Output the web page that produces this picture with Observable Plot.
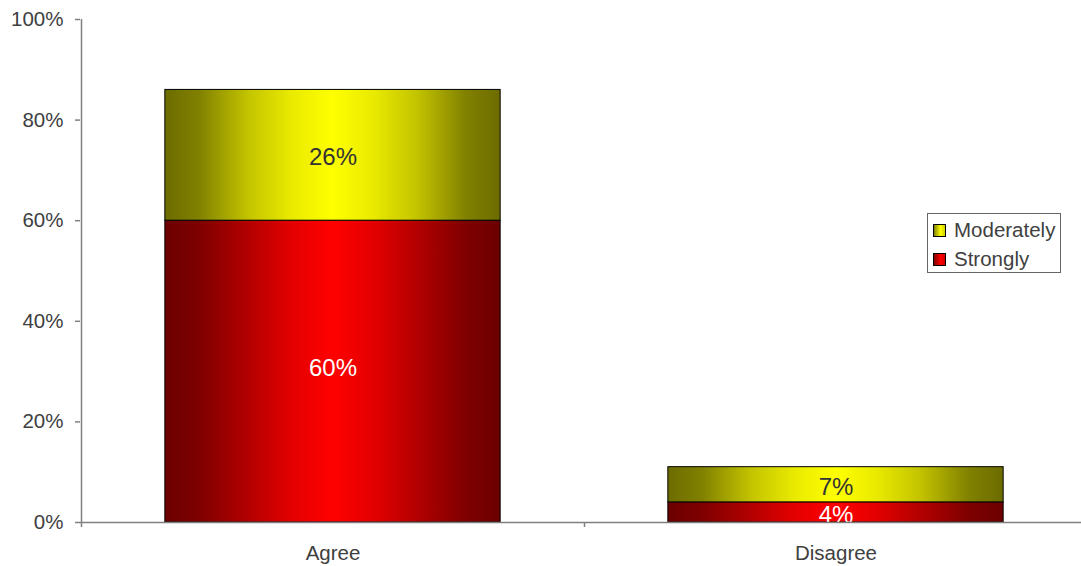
<!DOCTYPE html>
<html>
<head>
<meta charset="utf-8">
<script src="https://cdn.jsdelivr.net/npm/d3@7"></script>
<script src="https://cdn.jsdelivr.net/npm/@observablehq/plot@0.6"></script>
<style>
  html, body { margin: 0; padding: 0; background: #fff; }
  #wrap { position: relative; width: 1081px; height: 566px; overflow: hidden; font-family: "Liberation Sans", Arial, sans-serif; }
  #legend { position: absolute; left: 927px; top: 213px; width: 132px; height: 58px; border: 1px solid #666; background: #fff; color: #404040; font-size: 20.5px; }
  .item { position: absolute; left: 5px; height: 24px; display: flex; align-items: center; }
  .sw { width: 11px; height: 11px; border: 1px solid #000; margin-right: 8px; }
</style>
</head>
<body>
<div id="wrap"></div>
<script>
const categories = ["Agree", "Disagree"];
const strongly = [0.60, 0.04];
const moderately = [0.26, 0.07];
const seriesNames = ["Strongly", "Moderately"];
const yTicks = [0, 0.2, 0.4, 0.6, 0.8, 1.0];

const rows = [];
categories.forEach((c, i) => {
  rows.push({cat: c, i, series: "Strongly", y1: 0, y2: strongly[i], v: strongly[i]});
  rows.push({cat: c, i, series: "Moderately", y1: strongly[i], y2: strongly[i] + moderately[i], v: moderately[i]});
});
const pad = 0.1667;
const fmt = d3.format(".0%");
const isStrong = d => d.series === "Strongly";

const chart = Plot.plot({
  width: 1081,
  height: 566,
  marginLeft: 80,
  marginRight: 0,
  marginTop: 19,
  marginBottom: 44,
  style: {fontFamily: "'Liberation Sans', Arial, sans-serif", fontSize: "20.5px", color: "#404040", background: "#fff", overflow: "visible"},
  x: {domain: [0, categories.length], range: [81, 1087]},
  y: {domain: [0, 1]},
  marks: [
    Plot.rect(rows, {
      x1: d => d.i + pad, x2: d => d.i + 1 - pad, y1: "y1", y2: "y2",
      fill: d => isStrong(d) ? "url(#gradRed)" : "url(#gradYel)",
      stroke: "#000", strokeWidth: 1
    }),
    Plot.text(rows.filter(d => !isStrong(d)), {
      x: d => d.i + 0.5, y: d => (d.y1 + d.y2) / 2, text: d => fmt(d.v),
      fill: "#333", fontSize: 24, dy: 2.5
    }),
    Plot.text(rows.filter(d => isStrong(d) && d.v >= 0.1), {
      x: d => d.i + 0.5, y: d => (d.y1 + d.y2) / 2, text: d => fmt(d.v),
      fill: "#fff", fontSize: 24, dy: -3
    }),
    Plot.text(rows.filter(d => isStrong(d) && d.v < 0.1), {
      x: d => d.i + 0.5, y: d => (d.y1 + d.y2) / 2, text: d => fmt(d.v),
      fill: "#fff", fontSize: 24, dy: 3
    }),
    Plot.ruleY([0], {stroke: "#808080", strokeWidth: 1.5}),
    Plot.ruleX([0], {y1: 0, y2: 1, stroke: "#808080", strokeWidth: 1.5}),
    Plot.ruleX(d3.range(categories.length + 1), {y1: 0, y2: -0.01, stroke: "#808080", strokeWidth: 1.5}),
    Plot.axisY({ticks: yTicks, tickFormat: fmt, tickSize: 5, tickPadding: 12, stroke: "#808080", strokeWidth: 1.5, fill: "#404040"}),
    Plot.axisX({ticks: categories.map((c, i) => i + 0.5), tickFormat: v => categories[Math.round(v - 0.5)], tickSize: 0, tickPadding: 23, fill: "#404040"})
  ]
});

const ns = "http://www.w3.org/2000/svg";
const defs = document.createElementNS(ns, "defs");
function grad(id, stops) {
  const g = document.createElementNS(ns, "linearGradient");
  g.setAttribute("id", id);
  g.setAttribute("x1", "0"); g.setAttribute("x2", "1"); g.setAttribute("y1", "0"); g.setAttribute("y2", "0");
  stops.forEach(([o, c]) => {
    const s = document.createElementNS(ns, "stop");
    s.setAttribute("offset", o); s.setAttribute("stop-color", c);
    g.appendChild(s);
  });
  defs.appendChild(g);
}
grad("gradRed", [[0, "#6c0000"], [0.1, "#7e0000"], [0.25, "#b40000"], [0.38, "#e40000"], [0.5, "#ff0000"], [0.62, "#e40000"], [0.75, "#b40000"], [0.9, "#7e0000"], [1, "#6c0000"]]);
grad("gradYel", [[0, "#6c6c00"], [0.1, "#808000"], [0.25, "#c4c400"], [0.38, "#eaea00"], [0.5, "#ffff00"], [0.62, "#eaea00"], [0.75, "#c4c400"], [0.9, "#808000"], [1, "#6c6c00"]]);
chart.insertBefore(defs, chart.firstChild);

const wrap = document.getElementById("wrap");
wrap.appendChild(chart);

const legend = document.createElement("div");
legend.id = "legend";
const legendItems = [
  {name: "Moderately", bg: "linear-gradient(90deg,#808000,#ffff00 60%,#d0d000)"},
  {name: "Strongly", bg: "linear-gradient(90deg,#800000,#ff0000 60%,#d00000)"}
];
legendItems.forEach((it, k) => {
  const d = document.createElement("div");
  d.className = "item";
  d.style.top = (4 + k * 29) + "px";
  const sw = document.createElement("div");
  sw.className = "sw";
  sw.style.background = it.bg;
  d.appendChild(sw);
  const t = document.createElement("span");
  t.textContent = it.name;
  d.appendChild(t);
  legend.appendChild(d);
});
wrap.appendChild(legend);
</script>
</body>
</html>
